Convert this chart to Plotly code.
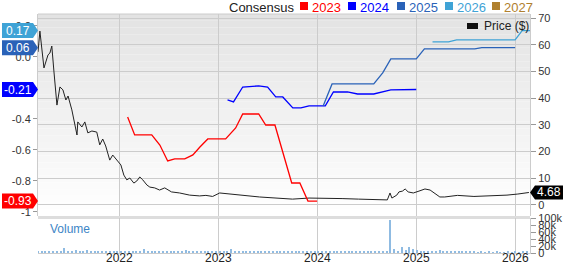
import plotly.graph_objects as go
import pandas as pd

# ---------------- data ----------------
price_dates = ["2021-03-05","2021-03-12","2021-03-27","2021-04-11","2021-04-18","2021-04-25","2021-05-03","2021-05-14","2021-05-25","2021-06-05",
               "2021-06-16","2021-06-24","2021-07-08","2021-07-19","2021-07-27","2021-07-30","2021-08-14","2021-08-25","2021-09-05","2021-09-20",
               "2021-10-08","2021-10-19","2021-10-30","2021-11-10","2021-11-25","2021-12-06","2021-12-21","2022-01-05","2022-01-16","2022-01-27",
               "2022-02-07","2022-02-22","2022-03-05","2022-03-16","2022-03-27","2022-04-11","2022-04-22","2022-05-10","2022-05-28","2022-06-16",
               "2022-07-11","2022-08-10","2022-09-16","2022-10-23","2022-11-15","2022-12-10","2023-01-05","2023-02-10","2023-04-01","2023-06-01",
               "2023-08-01","2023-10-01","2023-12-01","2024-02-01","2024-04-01","2024-06-01","2024-08-01","2024-09-15","2024-09-25","2024-10-02",
               "2024-10-20","2024-10-28","2024-11-10","2024-11-20","2024-12-01","2024-12-20","2025-01-10","2025-02-01","2025-02-20","2025-03-12",
               "2025-03-28","2025-04-15","2025-06-01","2025-08-01","2025-10-01","2025-12-01","2026-01-10","2026-02-20"]
price_values = [57.3,65.1,51.3,56.2,56.9,59.5,49.8,37.4,44.2,43.1,
                39.3,40.8,35.6,30.0,26.2,31.1,29.2,31.1,27.0,27.7,
                27.3,22.5,24.7,22.1,16.8,18.7,16.8,15.0,11.2,9.4,
                10.1,8.2,9.0,10.5,9.4,7.5,6.7,6.4,5.6,6.4,
                4.9,4.5,3.7,3.4,3.6,3.2,4.5,4.1,3.4,3.0,
                2.6,2.2,2.6,2.6,2.4,2.2,2.1,1.9,4.5,2.6,
                3.7,4.9,5.2,6.0,4.9,4.5,5.2,6.0,5.6,4.1,
                3.0,3.0,3.6,3.2,3.4,3.7,4.1,4.68]

eps2023_dates = ["2022-01-30","2022-02-25","2022-04-29","2022-05-29","2022-06-27","2022-07-23","2022-08-29","2022-09-28","2022-10-24","2022-11-22",
                 "2023-01-27","2023-03-05","2023-03-31","2023-05-29","2023-06-24","2023-07-28","2023-09-28","2023-10-28","2023-11-27","2023-12-31"]
eps2023_values = [-0.387,-0.503,-0.503,-0.568,-0.671,-0.658,-0.658,-0.632,-0.581,-0.529,
                  -0.529,-0.458,-0.368,-0.368,-0.439,-0.439,-0.813,-0.813,-0.93,-0.93]

eps2024_dates = ["2023-02-03","2023-02-25","2023-03-31","2023-05-29","2023-07-01","2023-07-31","2023-08-26","2023-10-02","2023-11-01","2023-12-01",
                 "2024-01-30","2024-02-29","2024-04-21","2024-05-28","2024-07-27","2024-09-28","2024-12-31"]
eps2024_values = [-0.277,-0.290,-0.194,-0.187,-0.194,-0.258,-0.258,-0.329,-0.329,-0.316,
                  -0.316,-0.226,-0.226,-0.239,-0.239,-0.213,-0.21]

eps2025_dates = ["2024-01-22","2024-02-24","2024-07-27","2024-08-29","2024-09-28","2024-12-31","2025-01-30","2025-08-04","2025-08-30","2025-12-31"]
eps2025_values = [-0.316,-0.174,-0.174,-0.103,-0.013,-0.013,0.052,0.052,0.06,0.06]

eps2026_dates = ["2025-03-01","2025-04-29","2025-05-29","2025-12-31","2026-01-26","2026-02-24"]
eps2026_values = [0.097,0.097,0.110,0.110,0.17,0.17]

volume_values = [4,3,5,4,3,6,5,14,4,3,8,5,4,10,4,3,5,4,3,6,4,3,
                 4,3,5,7,4,3,12,4,3,4,5,3,4,3,6,4,3,8,4,3,4,3,5,4,3,6,
                 4,3,6,12,5,4,3,4,3,5,4,3,4,3,4,3,4,5,3,4,3,4,3,5,3,4,
                 3,4,3,4,3,4,3,4,3,4,3,3,4,3,3,3,3,3,3,93,12,6,16,8,18,12,
                 8,5,4,6,7,6,8,5,4,6,5,4,3,3,3,3,2,3,2,3,2,3,2,2,3,2,3,2,3,3]
volume_dates = pd.date_range("2021-03-05", periods=len(volume_values), freq="14D")

year_ticks = ["2022-01-01","2023-01-01","2024-01-01","2025-01-01","2026-01-01"]
year_labels = ["2022","2023","2024","2025","2026"]
eps_ticks = [-1,-0.8,-0.6,-0.4,-0.2,0.0,0.2]
eps_labels = ["-1","-0.8","-0.6","-0.4","-0.2","0.0","0.2"]
price_ticks = [0,10,20,30,40,50,60,70]
vol_ticks = [0,20000,40000,60000,80000,100000]
vol_labels = ["0","20k","40k","60k","80k","100k"]

legend_years = ["2023","2024","2025","2026","2027"]
legend_colors = ["#ff0000","#0000ff","#2a62b8","#3fa3d6","#b0802e"]

# ---------------- layout helpers ----------------
W, H = 565, 264
ML, MR, MT, MB = 38, 35, 14, 11
PW = W - ML - MR
PH = H - MT - MB
def px(x):  # pixel x -> paper
    return (x - ML) / PW
def py(y):  # pixel y -> paper
    return (H - MB - y) / PH

main_bottom_px = 216
main_dom = [py(main_bottom_px), 1.0]
vol_dom = [0.0, py(218)]
PRICE_RANGE = [-4.12, 71.5]
px_per_price = (main_bottom_px - MT) / (PRICE_RANGE[1] - PRICE_RANGE[0])
EPS_RANGE = [-1.026, 0.277]
px_per_eps = (main_bottom_px - MT) / (EPS_RANGE[1] - EPS_RANGE[0])

FONT = "Arial, Liberation Sans, sans-serif"

fig = go.Figure()

fig.add_trace(go.Bar(x=volume_dates, y=[v * 1000 for v in volume_values], xaxis="x2", yaxis="y3",
                     marker=dict(color="#8fbbe2", line=dict(width=0)), width=5 * 86400000, showlegend=False))

fig.add_trace(go.Scatter(x=price_dates, y=price_values, xaxis="x", yaxis="y", mode="lines",
                         line=dict(color="#222222", width=1), showlegend=False))

for d, v, c in [(eps2023_dates, eps2023_values, legend_colors[0]),
                (eps2024_dates, eps2024_values, legend_colors[1]),
                (eps2025_dates, eps2025_values, legend_colors[2]),
                (eps2026_dates, eps2026_values, legend_colors[3])]:
    fig.add_trace(go.Scatter(x=d, y=v, xaxis="x", yaxis="y2", mode="lines",
                             line=dict(color=c, width=1.3), showlegend=False))

xr = ["2021-03-05", "2026-02-24"]
grid = "#cccccc"
tickfont = dict(family=FONT, size=11, color="#333333")

fig.update_layout(
    width=W, height=H, margin=dict(l=ML, r=MR, t=MT, b=MB, autoexpand=False),
    paper_bgcolor="white", plot_bgcolor="rgba(0,0,0,0)",
    showlegend=False, bargap=0,
    xaxis=dict(domain=[0, 1], anchor="y", type="date", range=xr, tickvals=year_ticks, ticktext=year_labels,
               showticklabels=False, showgrid=True, gridcolor=grid, gridwidth=1, zeroline=False, ticks="",
               automargin=False),
    xaxis2=dict(domain=[0, 1], anchor="y3", type="date", range=xr, matches="x", tickvals=year_ticks, ticktext=year_labels,
                showticklabels=False, showgrid=True, gridcolor=grid, gridwidth=1, zeroline=False,
                showline=True, linecolor=grid, ticks="", automargin=False),
    yaxis=dict(domain=main_dom, anchor="x", side="right", range=PRICE_RANGE, tickvals=price_ticks,
               showgrid=True, gridcolor=grid, zeroline=False, showline=True, linecolor=grid,
               ticks="outside", ticklen=5, tickcolor="#999999", tickfont=tickfont, automargin=False),
    yaxis2=dict(domain=main_dom, anchor="x", overlaying="y", side="left", range=EPS_RANGE,
                tickvals=eps_ticks, ticktext=eps_labels, showgrid=False, zeroline=False,
                showline=True, linecolor=grid, ticks="outside", ticklen=4, tickcolor="#999999", tickfont=tickfont,
                automargin=False),
    yaxis3=dict(domain=vol_dom, anchor="x2", side="right", range=[0, 100000], tickvals=vol_ticks, ticktext=vol_labels,
                showgrid=False, zeroline=False, showline=True, linecolor=grid,
                ticks="outside", ticklen=5, tickcolor="#999999", tickfont=tickfont, automargin=False),
)

shapes = []
# gradient background of the main panel
n = 30
top_px, bot_px = MT, main_bottom_px
for i in range(n):
    y0p = top_px + (bot_px - top_px) * i / n
    y1p = top_px + (bot_px - top_px) * (i + 1) / n
    t = (i + 0.5) / n
    g = int(round(227 + (255 - 227) * t))
    shapes.append(dict(type="rect", xref="paper", yref="paper", x0=0, x1=1, y0=py(y1p), y1=py(y0p),
                       fillcolor=f"rgb({g},{g},{g})", line=dict(width=0), layer="below"))
# top border and separator band
shapes.append(dict(type="line", xref="paper", yref="paper", x0=0, x1=1, y0=1, y1=1,
                   line=dict(color=grid, width=1), layer="below"))
shapes.append(dict(type="rect", xref="paper", yref="paper", x0=0, x1=1, y0=py(219), y1=py(216),
                   fillcolor="#dddddd", line=dict(width=0), layer="below"))

annotations = []
# x-axis year labels
for tv, tl in zip(year_ticks, year_labels):
    annotations.append(dict(xref="x2", yref="paper", x=tv, y=py(258), text=tl, showarrow=False,
                            font=dict(family=FONT, size=12, color="#222222"), xanchor="center", yanchor="middle"))
# left flags (EPS consensus values)
flag_specs = [(0.17, legend_colors[3], "0.17"), (0.06, legend_colors[2], "0.06"),
              (-0.21, legend_colors[1], "-0.21"), (-0.93, legend_colors[0], "-0.93")]
h_eps = 7.5 / px_per_eps
for v, c, txt in flag_specs:
    xa, xb, xt = px(2), px(33), px(38)
    path = f"M {xa},{v + h_eps} L {xb},{v + h_eps} L {xt},{v} L {xb},{v - h_eps} L {xa},{v - h_eps} Z"
    shapes.append(dict(type="path", xref="paper", yref="y2", path=path, fillcolor=c, line=dict(width=0), layer="above"))
    annotations.append(dict(xref="paper", yref="y2", x=px(18), y=v, text=txt, showarrow=False,
                            font=dict(family=FONT, size=12, color="white"), xanchor="center", yanchor="middle"))
# right flag (last price)
last = price_values[-1]
h_pr = 7.0 / px_per_price
xa, xb, xt = px(563), px(535), px(530)
path = f"M {xa},{last + h_pr} L {xb},{last + h_pr} L {xt},{last} L {xb},{last - h_pr} L {xa},{last - h_pr} Z"
shapes.append(dict(type="path", xref="paper", yref="y", path=path, fillcolor="#000000", line=dict(width=0), layer="above"))
annotations.append(dict(xref="paper", yref="y", x=px(549), y=last, text=f"{last:.2f}", showarrow=False,
                        font=dict(family=FONT, size=12, color="white"), xanchor="center", yanchor="middle"))

# top legend
LEG_Y = 7
annotations.append(dict(xref="paper", yref="paper", x=px(227), y=py(LEG_Y), text="Consensus", showarrow=False,
                        font=dict(family=FONT, size=13, color="#222222"), xanchor="left", yanchor="middle"))
sq_x = [300, 348, 397, 445, 492]
for sx, yr, c in zip(sq_x, legend_years, legend_colors):
    shapes.append(dict(type="rect", xref="paper", yref="paper", x0=px(sx), x1=px(sx + 8), y0=py(10), y1=py(2),
                       fillcolor=c, line=dict(width=0), layer="above"))
    annotations.append(dict(xref="paper", yref="paper", x=px(sx + 10), y=py(LEG_Y), text=yr, showarrow=False,
                            font=dict(family=FONT, size=13, color=c), xanchor="left", yanchor="middle"))
# price legend
shapes.append(dict(type="rect", xref="paper", yref="paper", x0=px(467), x1=px(478), y0=py(29), y1=py(23),
                   fillcolor="#111111", line=dict(width=0), layer="above"))
annotations.append(dict(xref="paper", yref="paper", x=px(482), y=py(26), text="Price ($)", showarrow=False,
                        font=dict(family=FONT, size=12, color="#222222"), xanchor="left", yanchor="middle"))
# volume label
annotations.append(dict(xref="paper", yref="paper", x=px(48), y=py(229), text="Volume", showarrow=False,
                        font=dict(family=FONT, size=12, color="#3d85c6"), xanchor="left", yanchor="middle"))

fig.update_layout(shapes=shapes, annotations=annotations)
fig.write_html("out.html")
